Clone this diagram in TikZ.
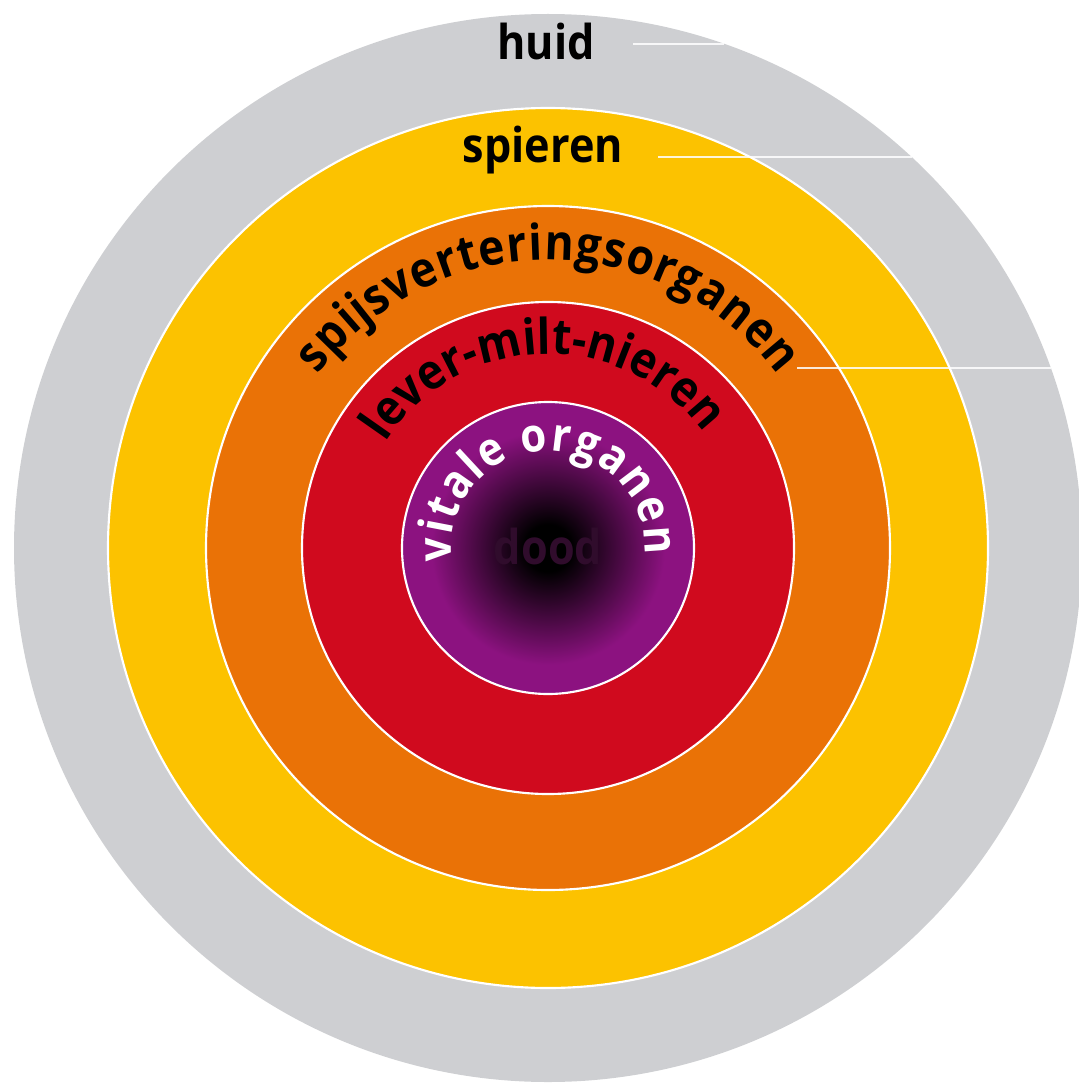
\documentclass[tikz,border=0pt]{standalone}
\usepackage{fontspec}
\setmainfont{Open Sans}[FakeStretch=0.9]
\usetikzlibrary{decorations.text}

\definecolor{skingray}{RGB}{206,207,210}
\definecolor{muscleyellow}{RGB}{252,194,0}
\definecolor{gutorange}{RGB}{234,114,6}
\definecolor{organred}{RGB}{208,10,30}
\definecolor{vitalpurple}{RGB}{140,18,128}
\definecolor{deathtext}{RGB}{48,12,44}

\pgfdeclareradialshading{deathglow}{\pgfpoint{0bp}{0bp}}{color(0bp)=(black); color(4bp)=(black); color(20bp)=(vitalpurple); color(25bp)=(vitalpurple); color(50bp)=(vitalpurple)}

\tikzset{
  ring/.style={draw=white, line width=0.8pt},
  leader/.style={draw=white, opacity=0.85, line width=1.1pt},
  lbl/.style={font=\fontsize{18}{20}\selectfont\bfseries, text=black, inner sep=0pt},
  arclbl/.style={decorate, decoration={text along path, text align=fit to path,
    text={|\fontsize{18.5}{20}\selectfont\bfseries|#1}}},
  whitearclbl/.style={decorate, decoration={text along path, text align=fit to path,
    text={|\fontsize{17.5}{18}\selectfont\bfseries\color{white}|#1}}},
}

\begin{document}
\begin{tikzpicture}[x=0.75pt,y=0.75pt,yscale=-0.5,xscale=0.5]
\useasboundingbox (0,0) rectangle (1078,1084);

%Shape: Circle huid
\fill[skingray] (548,548) circle (534) ;
%Shape: Circle spieren
\fill[muscleyellow, ring] (548,548) circle (440) ;
%Shape: Circle spijsvertering
\fill[gutorange, ring] (548,548) circle (342) ;
%Shape: Circle lever
\fill[organred, ring] (548,548) circle (246) ;
%Shape: Circle vitaal
\shadedraw[shading=deathglow, ring] (548,548) circle (146) ;


%Text straight
\node[lbl, anchor=base] (huid) at (546,60) {huid};
\node[lbl, anchor=base] (spieren) at (543,162) {spieren};
\node[lbl, text=deathtext] (dood) at (548,546) {dood};

%Text on arcs
\begin{scope}[shift={(548,548)}, yscale=-1]
\path[arclbl=spijsverteringsorganen] (143:288) arc (143:37:288) ;
\path[arclbl=lever-milt-nieren] (147:194) arc (147:38:194) ;
\path[whitearclbl=vitale organen] (188:97) arc (188:-4:97) ;
\end{scope}


%Straight Lines
\coordinate (huid-from) at (633,44) ;
\coordinate (huid-to) at (724,44) ;
\coordinate (spieren-from) at (658,157) ;
\coordinate (spieren-to) at (912,157) ;
\coordinate (spijs-from) at (797,368) ;
\coordinate (spijs-to) at (1051,368) ;

\draw[leader] (huid-from) -- (huid-to) ;
\draw[leader] (spieren-from) -- (spieren-to) ;
\draw[leader] (spijs-from) -- (spijs-to) ;

\end{tikzpicture}
\end{document}
